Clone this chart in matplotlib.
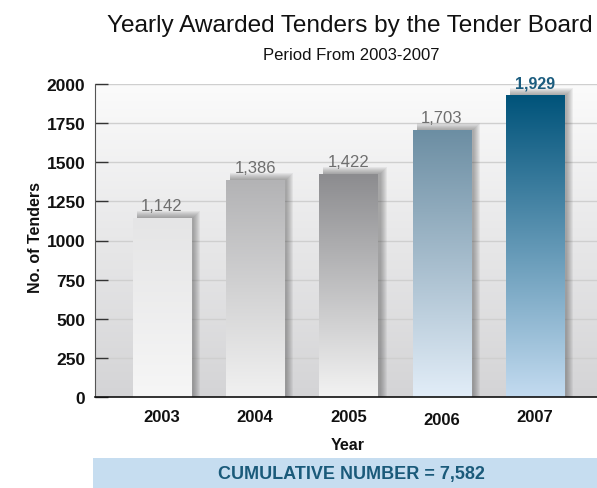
import matplotlib
matplotlib.use("Agg")
import matplotlib.pyplot as plt
import numpy as np
from matplotlib.colors import LinearSegmentedColormap
from matplotlib.patches import Rectangle
from matplotlib.transforms import ScaledTranslation

# data
years = ['2003', '2004', '2005', '2006', '2007']
tenders = [1142, 1386, 1422, 1703, 1929]
cumulative = 7582

# top/bottom gradient colours per bar
bar_tops = ['#e5e5e6', '#b3b3b5', '#8c8c8f', '#6c8ea3', '#00537a']
bar_bottoms = ['#f6f6f6', '#f1f1f1', '#f3f3f3', '#e2edf8', '#c3dbf0']

plt.rcParams['font.family'] = ['Liberation Sans', 'DejaVu Sans']

fig = plt.figure(figsize=(5.97, 4.89), dpi=100)
ax = fig.add_axes([95 / 597, 91 / 489, 502 / 597, 313 / 489])

x = np.arange(len(years))
xmin, xmax = -0.7185, 4.665
ymax = 2000

# plot background: white at the top, grey at the bottom
bg = LinearSegmentedColormap.from_list('bg', ['#d4d4d6', '#fbfbfb'])
ax.imshow(np.linspace(0, 1, 256).reshape(-1, 1)[::-1], extent=(xmin, xmax, 0, ymax),
          aspect='auto', cmap=bg, zorder=0)

bars = ax.bar(x, tenders, width=0.627, color='none', zorder=3)

px_x = 1 / 93.25
px_y = ymax / 313
for i, bar in enumerate(bars):
    x0, w, h = bar.get_x(), bar.get_width(), bar.get_height()
    # soft drop shadow up and to the right
    for k in range(1, 8):
        ax.add_patch(Rectangle((x0 + 4 * px_x, 0), w + k * px_x - 2 * px_x, h + k * px_y,
                               color='#4a4a4a', alpha=0.075, lw=0, zorder=1.5))
    cmap = LinearSegmentedColormap.from_list('b%d' % i, [bar_bottoms[i], bar_tops[i]])
    ax.imshow(np.linspace(0, 1, 256).reshape(-1, 1)[::-1], extent=(x0, x0 + w, 0, h),
              aspect='auto', cmap=cmap, zorder=2)

# value labels
for i, v in enumerate(tenders):
    last = i == len(tenders) - 1
    ax.annotate(f'{v:,}', xy=(x[i], v), xytext=(0, 8), textcoords='offset pixels',
                ha='center', va='baseline',
                fontsize=11.5 if last else 12,
                fontweight='bold' if last else 'normal',
                color='#1b5c7e' if last else '#6e6e6e', zorder=4, annotation_clip=False)

ax.set_xlim(xmin, xmax)
ax.set_ylim(0, ymax)
ax.set_yticks(range(0, 2001, 250))
ax.set_xticks(x)
ax.set_xticklabels(years)
ax.yaxis.grid(True, color='#cfcfcf', lw=1)
ax.set_axisbelow(True)

for s in ['top', 'right']:
    ax.spines[s].set_visible(False)
ax.spines['left'].set_color('#555555')
ax.spines['bottom'].set_color('#111111')
ax.spines['bottom'].set_linewidth(1.2)
ax.spines['bottom'].set_zorder(5)

ax.tick_params(axis='y', direction='in', length=9.5, width=1, color='#333333',
               pad=7, labelsize=12.5)
ax.tick_params(axis='x', length=0, pad=9, labelsize=12)
for lab in ax.get_yticklabels() + ax.get_xticklabels():
    lab.set_fontweight('bold')
    lab.set_color('#111111')
# the 2006 label sits a little lower in the original
ax.get_xticklabels()[3].set_transform(ax.get_xticklabels()[3].get_transform()
                                      + ScaledTranslation(0, -3 / 100, fig.dpi_scale_trans))

ax.set_xlabel('Year', fontsize=11.5, fontweight='bold', va='center', color='#111111')
ax.xaxis.set_label_coords(0.504, -0.153)
ax.set_ylabel('No. of Tenders', fontsize=11.5, fontweight='bold', va='center', ha='center',
              color='#111111')
ax.yaxis.set_label_coords(-0.1195, 0.514)

fig.text(107 / 597, 1 - 32 / 489, 'Yearly Awarded Tenders by the Tender Board',
         fontsize=17.6, ha='left', va='baseline', color='#111111')
fig.text(351.5 / 597, 1 - 60 / 489, 'Period From 2003-2007',
         fontsize=12, ha='center', va='baseline', color='#111111')

# cumulative banner
fig.patches.append(Rectangle((93 / 597, 0), 504 / 597, 30 / 489, transform=fig.transFigure,
                             color='#c6ddf0', lw=0, zorder=0))
fig.text(351 / 597, 14 / 489, f'CUMULATIVE NUMBER = {cumulative:,}', fontsize=13,
         fontweight='bold', ha='center', va='center', color='#1a5a7a')

fig.savefig('out.png', dpi=100)
